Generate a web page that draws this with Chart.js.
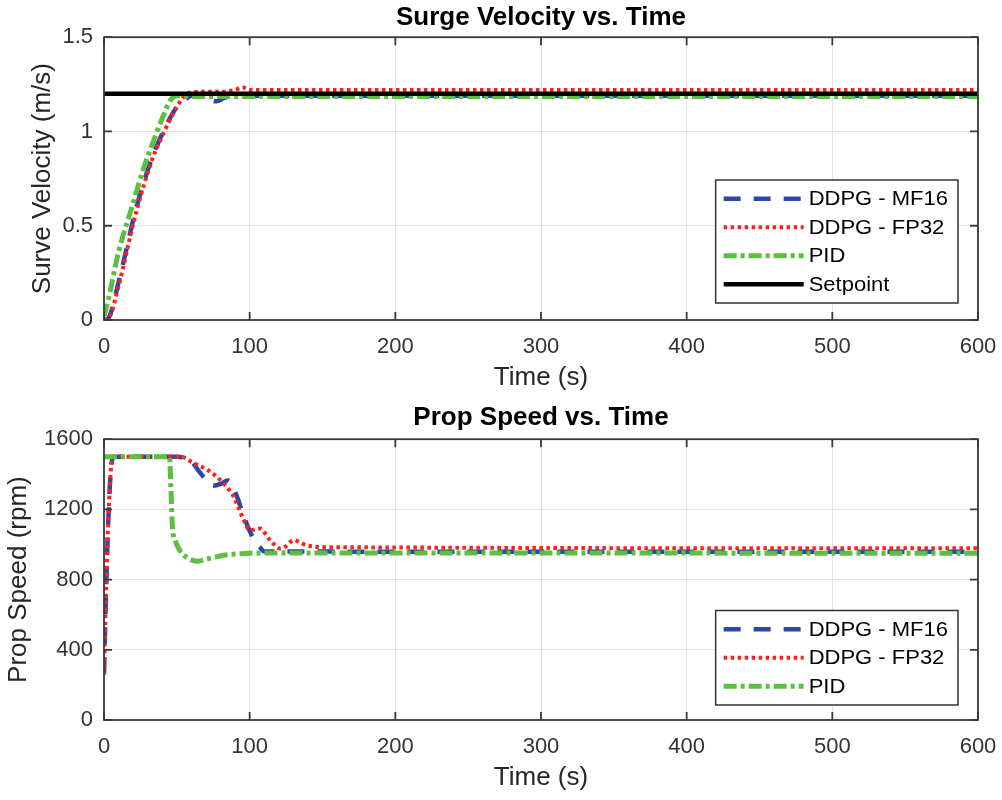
<!DOCTYPE html>
<html>
<head>
<meta charset="utf-8">
<script src="https://cdn.jsdelivr.net/npm/chart.js@4.4.1/dist/chart.umd.min.js"></script>
<style>
  body { margin: 0; background: #fff; }
  .wrap { position: absolute; left: 0; width: 1002px; height: 400px; }
</style>
</head>
<body>
<div class="wrap" style="top:0"><canvas id="surge" width="1002" height="400"></canvas></div>
<div class="wrap" style="top:400px"><canvas id="prop" width="1002" height="400"></canvas></div>
<script>
// ---- surge velocity (m/s) ----
const surgeTimeMF16 = [0, 3, 10, 22, 33, 42, 50, 56, 60, 67, 72, 77, 83, 88, 95, 100, 600];
const surgeMF16     = [0, 0.01, 0.2, 0.59, 0.86, 1.02, 1.13, 1.17, 1.19, 1.19, 1.17, 1.16, 1.18, 1.19, 1.2, 1.19, 1.19];
const surgeTimeFP32 = [0, 4, 10, 22, 33, 42, 50, 57, 65, 80, 90, 95, 100, 110, 600];
const surgeFP32     = [0, 0.02, 0.18, 0.57, 0.85, 1.01, 1.13, 1.2, 1.21, 1.21, 1.22, 1.235, 1.22, 1.22, 1.22];
const surgeTimePID  = [0, 3, 10, 20, 27, 34, 40, 45, 50, 55, 60, 80, 100, 600];
const surgePID      = [0.02, 0.11, 0.36, 0.62, 0.8, 0.95, 1.07, 1.16, 1.19, 1.19, 1.185, 1.185, 1.185, 1.185];
const setTime       = [0, 600];
const setpoint      = [1.2, 1.2];

// ---- prop speed (rpm) ----
const propTimeMF16 = [0, 1, 2, 3, 5, 7, 50, 55, 60, 65, 70, 75, 80, 85, 90, 96, 101, 107, 110, 600];
const propMF16     = [260, 600, 900, 1150, 1450, 1500, 1500, 1495, 1475, 1420, 1370, 1335, 1345, 1365, 1300, 1160, 1060, 985, 960, 958];
const propTimeFP32 = [0, 1, 2, 3, 5, 7, 50, 53, 61, 72, 82, 89, 96, 100, 107, 114, 121, 125, 130, 139, 151, 600];
const propFP32     = [260, 600, 900, 1150, 1450, 1500, 1500, 1500, 1466, 1420, 1349, 1272, 1139, 1082, 1091, 1025, 977, 990, 1025, 996, 985, 978];
const propTimePID  = [0, 45, 46, 47, 49, 52, 57, 64, 72, 82, 95, 105, 600];
const propPID      = [1500, 1500, 1300, 1100, 1020, 967, 925, 905, 920, 939, 948, 952, 950];

const xTicks = [0, 100, 200, 300, 400, 500, 600];

const FONT = '"Liberation Sans", Arial, sans-serif';
Chart.defaults.font.family = FONT;
Chart.defaults.color = '#262626';

function pts(xs, ys) {
  return xs.map((x, i) => ({ x: x, y: ys[i] }));
}

const styles = {
  mf16: { borderColor: '#2b47a8', borderWidth: 4.5, borderDash: [17, 13] },
  fp32: { borderColor: '#ff1f1f', borderWidth: 4, borderDash: [3.5, 3.5] },
  pid:  { borderColor: '#5cbf3f', borderWidth: 5, borderDash: [13, 4, 4, 4] },
  set:  { borderColor: '#000000', borderWidth: 4.5, borderDash: [] }
};

function ds(label, data, st, order) {
  return Object.assign({
    label: label, data: data, order: order,
    pointRadius: 0, fill: false, cubicInterpolationMode: 'monotone'
  }, st);
}

// box frame, inward ticks, legend drawn inside the plot like MATLAB
const matlabBox = {
  id: 'matlabBox',
  afterDatasetsDraw(chart, args, opts) {
    const ctx = chart.ctx, a = chart.chartArea;
    const xs = chart.scales.x, ys = chart.scales.y;
    ctx.save();
    ctx.strokeStyle = '#3a3a3a';
    ctx.lineWidth = 1.8;
    ctx.setLineDash([]);
    ctx.strokeRect(a.left, a.top, a.right - a.left, a.bottom - a.top);
    ctx.beginPath();
    xs.ticks.forEach(t => {
      const px = xs.getPixelForValue(t.value);
      ctx.moveTo(px, a.top); ctx.lineTo(px, a.top + 8);
      ctx.moveTo(px, a.bottom); ctx.lineTo(px, a.bottom - 8);
    });
    ys.ticks.forEach(t => {
      const py = ys.getPixelForValue(t.value);
      ctx.moveTo(a.left, py); ctx.lineTo(a.left + 8, py);
      ctx.moveTo(a.right, py); ctx.lineTo(a.right - 8, py);
    });
    ctx.stroke();

    // legend
    const sets = chart.data.datasets;
    const stretch = 1.1;
    ctx.font = '20px ' + FONT;
    const textW = Math.max(...sets.map(d => ctx.measureText(d.label).width)) * stretch;
    const rowH = 28.5, sample = 80;
    const w = 8 + sample + 5 + textW + 10;
    const h = rowH * sets.length + 9;
    const x = a.right - 20 - w;
    const y = a.bottom - opts.bottom - h;
    ctx.fillStyle = '#fff';
    ctx.fillRect(x, y, w, h);
    ctx.strokeStyle = '#333';
    ctx.lineWidth = 1.5;
    ctx.strokeRect(x, y, w, h);
    sets.forEach((d, i) => {
      const cy = y + 4.5 + rowH * (i + 0.5);
      ctx.strokeStyle = d.borderColor;
      ctx.lineWidth = d.borderWidth;
      ctx.setLineDash(d.borderDash || []);
      ctx.beginPath();
      ctx.moveTo(x + 8, cy); ctx.lineTo(x + 8 + sample, cy);
      ctx.stroke();
      ctx.setLineDash([]);
      ctx.fillStyle = '#000';
      ctx.textBaseline = 'middle';
      ctx.save();
      ctx.translate(x + 8 + sample + 5, cy + 1);
      ctx.scale(stretch, 1);
      ctx.fillText(d.label, 0, 0);
      ctx.restore();
    });
    ctx.restore();
  }
};

function makeOptions(title, titlePadBottom, yMin, yMax, yStep, yTitle, yTitlePad, legendBottom) {
  return {
    responsive: false,
    animation: false,
    devicePixelRatio: 1,
    layout: { padding: { left: 0, right: 24, top: 0, bottom: 0 } },
    plugins: {
      legend: { display: false },
      tooltip: { enabled: false },
      title: {
        display: true, text: title, color: '#000', fullSize: false,
        font: { size: 26, weight: 'bold' },
        padding: { top: 2, bottom: titlePadBottom }
      },
      matlabBox: { bottom: legendBottom }
    },
    scales: {
      x: {
        type: 'linear', min: 0, max: 600,
        afterBuildTicks: s => { s.ticks = xTicks.map(v => ({ value: v })); },
        ticks: { font: { size: 22 }, padding: 14, color: '#333' },
        grid: { color: '#e4e4e4', drawTicks: false },
        border: { display: false },
        title: { display: true, text: 'Time (s)', font: { size: 26 }, color: '#262626', padding: { top: 0, bottom: 7 } },
        afterFit: s => { s.height = 80; s.paddingLeft = 0; s.paddingRight = 0; }
      },
      y: {
        min: yMin, max: yMax,
        ticks: { stepSize: yStep, font: { size: 22 }, padding: 11, color: '#333', callback: v => String(v) },
        grid: { color: '#e4e4e4', drawTicks: false },
        border: { display: false },
        title: { display: true, text: yTitle, font: { size: 26 }, color: '#262626', padding: { top: yTitlePad, bottom: 0 } },
        afterFit: s => { s.width = 104; }
      }
    }
  };
}

new Chart(document.getElementById('surge'), {
  type: 'line',
  data: {
    datasets: [
      ds('DDPG - MF16', pts(surgeTimeMF16, surgeMF16), styles.mf16, 4),
      ds('DDPG - FP32', pts(surgeTimeFP32, surgeFP32), styles.fp32, 3),
      ds('PID', pts(surgeTimePID, surgePID), styles.pid, 2),
      ds('Setpoint', pts(setTime, setpoint), styles.set, 1)
    ]
  },
  options: makeOptions('Surge Velocity vs. Time', 4, 0, 1.5, 0.5, 'Surve Velocity (m/s)', 27, 17),
  plugins: [matlabBox]
});

new Chart(document.getElementById('prop'), {
  type: 'line',
  data: {
    datasets: [
      ds('DDPG - MF16', pts(propTimeMF16, propMF16), styles.mf16, 4),
      ds('DDPG - FP32', pts(propTimeFP32, propFP32), styles.fp32, 3),
      ds('PID', pts(propTimePID, propPID), styles.pid, 2)
    ]
  },
  options: makeOptions('Prop Speed vs. Time', 6, 0, 1600, 400, 'Prop Speed (rpm)', 3, 15),
  plugins: [matlabBox]
});
</script>
</body>
</html>
